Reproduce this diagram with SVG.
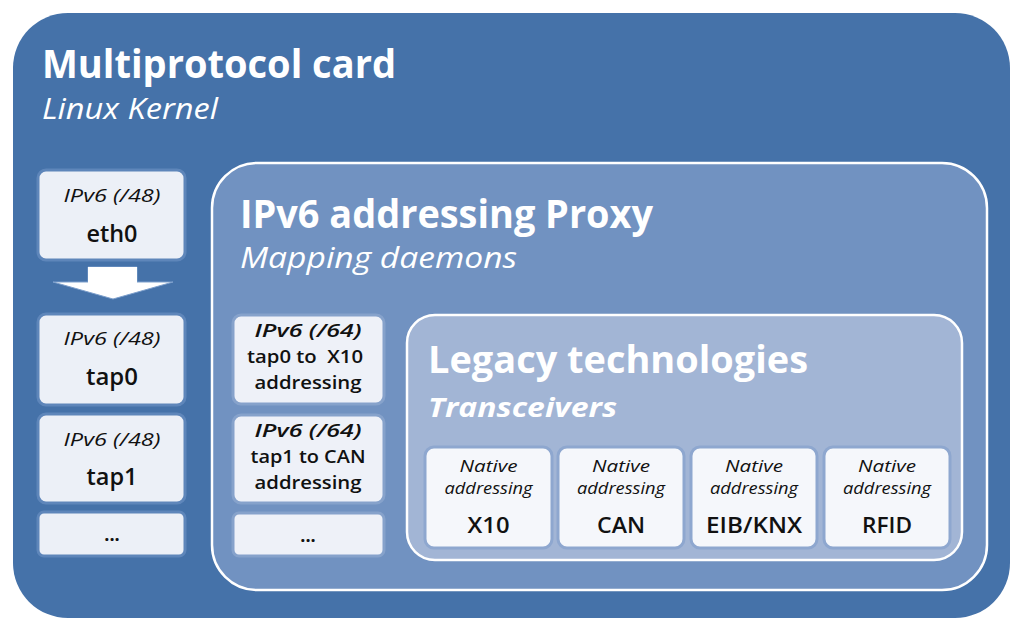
<svg xmlns="http://www.w3.org/2000/svg" width="1024" height="632" viewBox="0 0 1024 632">
<style>
.t{font-family:"Open Sans","Noto Sans","Liberation Sans",sans-serif;}
.w{fill:#ffffff;}
.k{fill:#111111;}
.b{font-weight:bold;}
.s{font-weight:600;}
.i{font-style:italic;}
.lbox{fill:#ECF0F7;stroke:#5E86BA;stroke-width:3;}
.pbox{fill:#EEF1F8;stroke:#86A2CB;stroke-width:3;}
.nbox{fill:#F5F7FB;stroke:#8EA7CF;stroke-width:3;}
</style>
<rect width="1024" height="632" fill="#ffffff"/>
<g id="card">
<rect x="13" y="13" width="997" height="605" rx="55" fill="#4572A9"/>
<text class="t w b" x="42" y="78" font-size="39" textLength="354" lengthAdjust="spacingAndGlyphs">Multiprotocol card</text>
<text class="t w i" x="42" y="119" font-size="29" textLength="176" lengthAdjust="spacingAndGlyphs">Linux Kernel</text>
</g>
<g id="eth0">
<rect class="lbox" x="38" y="170" width="147" height="90" rx="8"/>
<text class="t k i" x="112" y="202" font-size="19" text-anchor="middle" textLength="97" lengthAdjust="spacingAndGlyphs">IPv6 (/48)</text>
<text class="t k s" x="112" y="242" font-size="23" text-anchor="middle" textLength="51" lengthAdjust="spacingAndGlyphs">eth0</text>
</g>
<g id="connectors">
<polygon points="88,267 137,267 137,282 173,282 113,299 53,282 88,282" fill="#ffffff" stroke="#7D9FCC" stroke-width="1"/>
<polygon points="88,267 137,267 137,283 88,283" fill="#ffffff"/>
</g>
<g id="tap0">
<rect class="lbox" x="38" y="314" width="147" height="91" rx="8"/>
<text class="t k i" x="112" y="345" font-size="19" text-anchor="middle" textLength="97" lengthAdjust="spacingAndGlyphs">IPv6 (/48)</text>
<text class="t k s" x="112" y="385" font-size="23" text-anchor="middle" textLength="52" lengthAdjust="spacingAndGlyphs">tap0</text>
</g>
<g id="tap1">
<rect class="lbox" x="38" y="414" width="147" height="89" rx="8"/>
<text class="t k i" x="112" y="446" font-size="19" text-anchor="middle" textLength="97" lengthAdjust="spacingAndGlyphs">IPv6 (/48)</text>
<text class="t k s" x="112" y="485" font-size="23" text-anchor="middle" textLength="51" lengthAdjust="spacingAndGlyphs">tap1</text>
</g>
<g id="ldots">
<rect class="lbox" x="38" y="512" width="147" height="44" rx="6"/>
<text class="t k b" x="112" y="541" font-size="18" text-anchor="middle">...</text>
</g>
<g id="proxy">
<rect x="212" y="163" width="775" height="427" rx="45" fill="#7192C1" stroke="#ffffff" stroke-width="2.5"/>
<text class="t w b" x="240" y="228" font-size="39" textLength="413" lengthAdjust="spacingAndGlyphs">IPv6 addressing Proxy</text>
<text class="t w i" x="240" y="268" font-size="29" textLength="277" lengthAdjust="spacingAndGlyphs">Mapping daemons</text>
</g>
<g id="map0">
<rect class="pbox" x="233" y="315" width="151" height="89" rx="8"/>
<text class="t k s i" x="308" y="337" font-size="18" text-anchor="middle" textLength="107" lengthAdjust="spacingAndGlyphs">IPv6 (/64)</text>
<text class="t k s" x="305" y="363" font-size="18" text-anchor="middle" textLength="116" lengthAdjust="spacingAndGlyphs" xml:space="preserve">tap0 to  X10</text>
<text class="t k s" x="308" y="389" font-size="18" text-anchor="middle" textLength="107" lengthAdjust="spacingAndGlyphs">addressing</text>
</g>
<g id="map1">
<rect class="pbox" x="233" y="415" width="151" height="88" rx="8"/>
<text class="t k s i" x="308" y="437" font-size="18" text-anchor="middle" textLength="107" lengthAdjust="spacingAndGlyphs">IPv6 (/64)</text>
<text class="t k s" x="308" y="463" font-size="18" text-anchor="middle" textLength="115" lengthAdjust="spacingAndGlyphs">tap1 to CAN</text>
<text class="t k s" x="308" y="489" font-size="18" text-anchor="middle" textLength="107" lengthAdjust="spacingAndGlyphs">addressing</text>
</g>
<g id="pdots">
<rect class="pbox" x="233" y="513" width="151" height="43" rx="6"/>
<text class="t k b" x="308" y="542" font-size="18" text-anchor="middle">...</text>
</g>
<g id="legacy">
<rect x="407" y="315" width="555" height="245" rx="28" fill="#A2B5D5" stroke="#ffffff" stroke-width="2.5"/>
<text class="t w b" x="428" y="373" font-size="37" textLength="380" lengthAdjust="spacingAndGlyphs">Legacy technologies</text>
<text class="t w b i" x="428" y="417" font-size="27" textLength="189" lengthAdjust="spacingAndGlyphs">Transceivers</text>
</g>
<g id="x10">
<rect class="nbox" x="425" y="447" width="127" height="101" rx="9"/>
<text class="t k i" x="488.5" y="472" font-size="17" text-anchor="middle" textLength="58" lengthAdjust="spacingAndGlyphs">Native</text>
<text class="t k i" x="488.5" y="494" font-size="17" text-anchor="middle" textLength="88" lengthAdjust="spacingAndGlyphs">addressing</text>
<text class="t k s" x="488.5" y="533" font-size="22" text-anchor="middle" textLength="42" lengthAdjust="spacingAndGlyphs">X10</text>
</g>
<g id="can">
<rect class="nbox" x="558" y="447" width="126" height="101" rx="9"/>
<text class="t k i" x="621" y="472" font-size="17" text-anchor="middle" textLength="58" lengthAdjust="spacingAndGlyphs">Native</text>
<text class="t k i" x="621" y="494" font-size="17" text-anchor="middle" textLength="88" lengthAdjust="spacingAndGlyphs">addressing</text>
<text class="t k s" x="621" y="533" font-size="22" text-anchor="middle" textLength="48" lengthAdjust="spacingAndGlyphs">CAN</text>
</g>
<g id="eib">
<rect class="nbox" x="691" y="447" width="126" height="101" rx="9"/>
<text class="t k i" x="754" y="472" font-size="17" text-anchor="middle" textLength="58" lengthAdjust="spacingAndGlyphs">Native</text>
<text class="t k i" x="754" y="494" font-size="17" text-anchor="middle" textLength="88" lengthAdjust="spacingAndGlyphs">addressing</text>
<text class="t k s" x="754" y="533" font-size="22" text-anchor="middle" textLength="96" lengthAdjust="spacingAndGlyphs">EIB/KNX</text>
</g>
<g id="rfid">
<rect class="nbox" x="824" y="447" width="126" height="101" rx="9"/>
<text class="t k i" x="887" y="472" font-size="17" text-anchor="middle" textLength="58" lengthAdjust="spacingAndGlyphs">Native</text>
<text class="t k i" x="887" y="494" font-size="17" text-anchor="middle" textLength="88" lengthAdjust="spacingAndGlyphs">addressing</text>
<text class="t k s" x="887" y="533" font-size="22" text-anchor="middle" textLength="50" lengthAdjust="spacingAndGlyphs">RFID</text>
</g>
</svg>
